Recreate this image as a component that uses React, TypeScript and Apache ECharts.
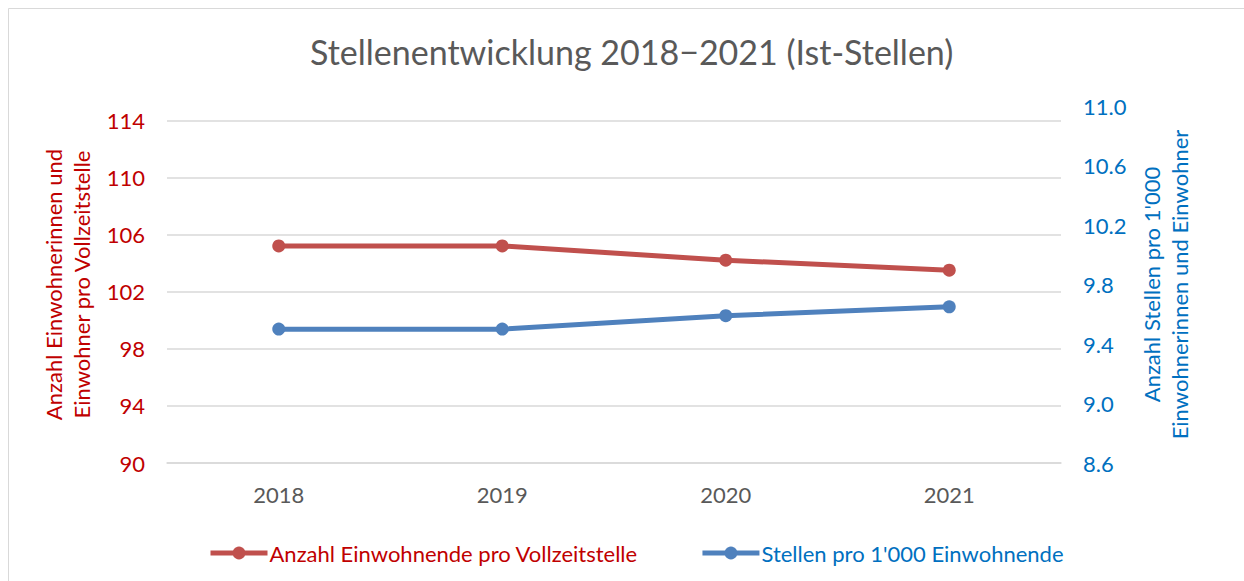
import React, { useEffect, useRef } from "react";
import * as echarts from "echarts";

const years = ["2018", "2019", "2020", "2021"];
const einwohnendeProStelle = [105.2, 105.2, 104.2, 103.5];
const stellenPro1000 = [9.5, 9.5, 9.59, 9.65];

const titleText = "Stellenentwicklung 2018\u22122021 (Ist-Stellen)";
const seriesNames = ["Anzahl Einwohnende pro Vollzeitstelle", "Stellen pro 1'000 Einwohnende"];
const leftAxisName = "Anzahl Einwohnerinnen und\nEinwohner pro Vollzeitstelle";
const rightAxisName = "Anzahl Stellen pro 1'000\nEinwohnerinnen und Einwohner";

const FONT = "Lato, 'Noto Sans', sans-serif";
const RED = "#c0504d";
const BLUE = "#4f81bd";
const RED_TEXT = "#c00000";
const BLUE_TEXT = "#0070c0";
const GREY = "#595959";

export default function App() {
  const ref = useRef<HTMLDivElement>(null);
  useEffect(() => {
    if (!ref.current) return;
    const chart = echarts.init(ref.current, null, { renderer: "svg" });
    chart.setOption({
      animation: false,
      backgroundColor: "#ffffff",
      textStyle: { fontFamily: FONT },
      graphic: [
        {
          type: "rect",
          shape: { x: 8.5, y: 8.5, width: 1300, height: 650 },
          style: { fill: "none", stroke: "#d9d9d9", lineWidth: 1 },
          silent: true,
        },
      ],
      title: {
        text: titleText,
        left: 305,
        top: 29,
        textStyle: { fontFamily: FONT, fontSize: 34, fontWeight: "normal", color: GREY },
      },
      grid: { left: 167, right: 183, top: 106, bottom: 118, containLabel: false },
      legend: {
        left: 203,
        top: 537,
        itemWidth: 57,
        itemHeight: 16,
        itemGap: 62,
        lineStyle: { width: 5 },
        data: [
          { name: seriesNames[0], textStyle: { color: RED_TEXT } },
          { name: seriesNames[1], textStyle: { color: BLUE_TEXT } },
        ],
        textStyle: { fontFamily: FONT, fontSize: 22, padding: [0, 0, 0, -3] },
      },
      xAxis: {
        type: "category",
        data: years,
        boundaryGap: true,
        axisLine: { show: true, lineStyle: { color: "#d9d9d9", width: 1.5 } },
        axisTick: { show: false },
        axisLabel: { color: GREY, fontSize: 22, margin: 20, fontFamily: FONT },
      },
      yAxis: [
        {
          type: "value",
          min: 90,
          max: 115,
          interval: 4,
          position: "left",
          name: leftAxisName,
          nameLocation: "middle",
          nameRotate: 90,
          nameGap: 72,
          nameTextStyle: { color: RED_TEXT, fontSize: 22, lineHeight: 28, fontFamily: FONT },
          axisLine: { show: false },
          axisTick: { show: false },
          axisLabel: { color: RED_TEXT, fontSize: 22, margin: 22, showMaxLabel: false, fontFamily: FONT },
          splitLine: { show: true, showMaxLine: false, lineStyle: { color: "#d9d9d9", width: 1.5 } },
        },
        {
          type: "value",
          min: 8.6,
          max: 11.0,
          interval: 0.4,
          position: "right",
          name: rightAxisName,
          nameLocation: "middle",
          nameRotate: 90,
          nameGap: 74,
          nameTextStyle: { color: BLUE_TEXT, fontSize: 22, lineHeight: 28, fontFamily: FONT },
          axisLine: { show: false },
          axisTick: { show: false },
          axisLabel: {
            color: BLUE_TEXT,
            fontSize: 22,
            margin: 22,
            fontFamily: FONT,
            formatter: (v: number) => v.toFixed(1),
          },
          splitLine: { show: false },
        },
      ],
      series: [
        {
          name: seriesNames[0],
          type: "line",
          yAxisIndex: 0,
          data: einwohnendeProStelle,
          symbol: "circle",
          symbolSize: 13,
          lineStyle: { color: RED, width: 5 },
          itemStyle: { color: RED },
        },
        {
          name: seriesNames[1],
          type: "line",
          yAxisIndex: 1,
          data: stellenPro1000,
          symbol: "circle",
          symbolSize: 13,
          lineStyle: { color: BLUE, width: 5 },
          itemStyle: { color: BLUE },
        },
      ],
    });
    return () => chart.dispose();
  }, []);
  return (
    <div
      ref={ref}
      style={{ position: "fixed", left: 0, top: 0, width: 1244, height: 581 }}
    />
  );
}
